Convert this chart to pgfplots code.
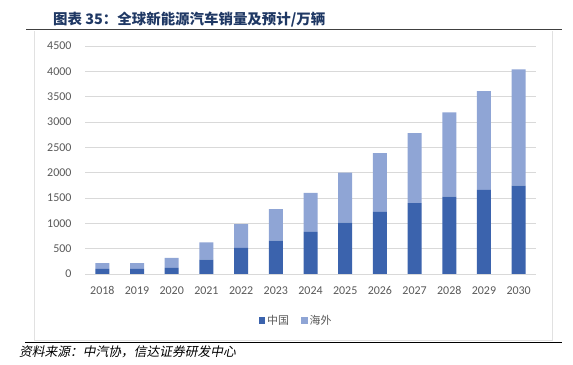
\documentclass[border=0pt]{standalone}
\usepackage{pgfplots}
\pgfplotsset{compat=1.18}
\usepackage{fontspec}
\setmainfont{Carlito}
\newfontfamily\cjk{Noto Sans CJK SC}
\newfontfamily\cjkit[FakeSlant=0.2]{Noto Sans CJK SC}
\definecolor{cn}{HTML}{3B63AD}
\definecolor{os}{HTML}{8FA5D5}
\definecolor{tick}{HTML}{595959}
\definecolor{gridc}{HTML}{D9D9D9}
\definecolor{titleblue}{HTML}{1F3864}
\begin{document}
\begin{tikzpicture}
\path[use as bounding box] (0bp,0bp) rectangle (573bp,365bp);
% frame
\draw[gridc!80, line width=1bp] (34bp,334bp) -- (34bp,24bp) -- (552bp,24bp) -- (552bp,334bp);
\draw[black!75, line width=1bp] (26bp,335bp) -- (562bp,335bp);
\draw[black, line width=1bp] (25bp,22bp) -- (562bp,22bp);
\node[anchor=west, inner sep=0pt, text=titleblue, font=\cjk\bfseries\fontsize{14.5}{16}\selectfont] at (53bp,345bp) {图表\ 35：全球新能源汽车销量及预计/万辆};
\node[anchor=west, inner sep=0pt, font=\cjkit\fontsize{12.8}{14}\selectfont] at (19bp,13bp) {资料来源：中汽协，信达证券研发中心};
\begin{axis}[
  at={(85bp,91bp)}, anchor=south west,
  scale only axis, width=451bp, height=228bp,
  ybar stacked, bar width=14bp,
  xmin=-0.5, xmax=12.5, ymin=0, ymax=4500,
  ytick={0,500,...,4500},
  xtick={0,...,12},
  xticklabels={2018,2019,2020,2021,2022,2023,2024,2025,2026,2027,2028,2029,2030},
  axis line style={draw=none},
  major tick length=0pt,
  ymajorgrids, grid style={gridc, line width=0.8bp},
  tick label style={text=tick, font=\fontsize{12}{14}\selectfont},
  yticklabel style={xshift=-10bp},
  xticklabel style={yshift=-9bp},
  scaled y ticks=false,
  /pgf/number format/1000 sep={},
  /pgf/number format/assume math mode=true,
  legend style={at={(0.468,-0.205)}, anchor=center, legend columns=2, draw=none, fill=none,
    font=\cjk\fontsize{11}{13}\selectfont, text=tick,
    /tikz/every even column/.append style={column sep=10bp}},
  legend image code/.code={\fill[#1] (0bp,-3bp) rectangle (6.5bp,3.5bp);},
]
\addplot[fill=cn, draw=none] coordinates {(0,100) (1,100) (2,120) (3,285) (4,515) (5,660) (6,830) (7,1015) (8,1225) (9,1400) (10,1525) (11,1660) (12,1745)};
\addplot[fill=os, draw=none] coordinates {(0,115) (1,115) (2,200) (3,340) (4,470) (5,620) (6,770) (7,985) (8,1160) (9,1380) (10,1665) (11,1950) (12,2295)};
\legend{中国,海外}
\end{axis}
\end{tikzpicture}
\end{document}
